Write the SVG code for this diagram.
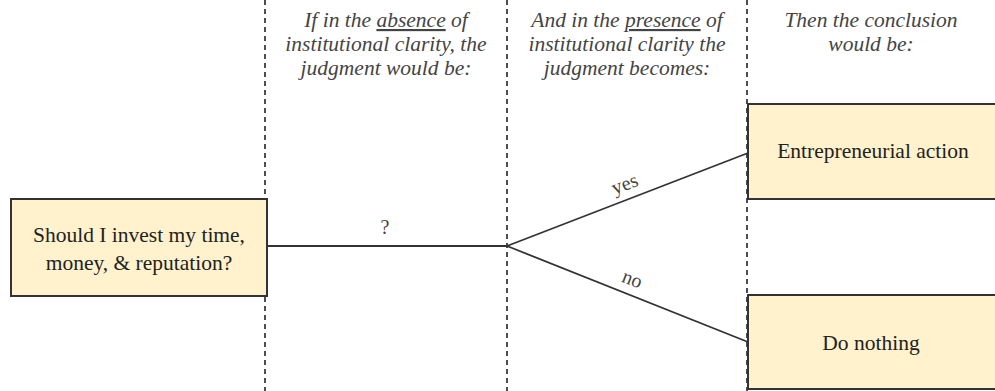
<svg xmlns="http://www.w3.org/2000/svg" width="995" height="391" viewBox="0 0 995 391">
<style>
.guide{stroke:#222;stroke-width:1.6;stroke-dasharray:5,4;fill:none}
.box{fill:#FFF2CC;stroke:#333;stroke-width:2}
.conn{stroke:#333;stroke-width:1.8;fill:none}
.hdr{font-family:"Liberation Serif",serif;font-style:italic;font-size:21.5px;fill:#444;text-anchor:middle}
.lbl{font-family:"Liberation Serif",serif;font-size:21.5px;fill:#222;text-anchor:middle}
.edge{font-family:"Liberation Serif",serif;font-size:20px;fill:#444;text-anchor:middle}
.u{text-decoration:underline}
</style>
<g id="guides">
<line class="guide" x1="265" y1="0" x2="265" y2="391"/>
<line class="guide" x1="507" y1="0" x2="507" y2="391"/>
<line class="guide" x1="747" y1="0" x2="747" y2="391"/>
</g>
<g id="headers">
<text class="hdr" x="386" y="27">If in the <tspan class="u">absence</tspan> of</text>
<text class="hdr" x="386" y="51">institutional clarity, the</text>
<text class="hdr" x="386" y="75">judgment would be:</text>
<text class="hdr" x="627" y="27">And in the <tspan class="u">presence</tspan> of</text>
<text class="hdr" x="627" y="51">institutional clarity the</text>
<text class="hdr" x="627" y="75">judgment becomes:</text>
<text class="hdr" x="871" y="27">Then the conclusion</text>
<text class="hdr" x="871" y="51">would be:</text>
</g>
<g id="connectors">
<line class="conn" x1="267" y1="246" x2="507" y2="246"/>
<line class="conn" x1="507" y1="246" x2="748" y2="153"/>
<line class="conn" x1="507" y1="246" x2="748" y2="342"/>
<text class="edge" x="385" y="234">?</text>
<text class="edge" x="627" y="190" transform="rotate(-21 627 190)">yes</text>
<text class="edge" x="630" y="285" transform="rotate(21 630 285)">no</text>
</g>
<g id="node-question">
<rect class="box" x="11" y="199" width="256" height="97"/>
<text class="lbl" x="139" y="242">Should I invest my time,</text>
<text class="lbl" x="139" y="270">money, &amp; reputation?</text>
</g>
<g id="node-action">
<rect class="box" x="748" y="104" width="250" height="95"/>
<text class="lbl" x="873" y="158">Entrepreneurial action</text>
</g>
<g id="node-nothing">
<rect class="box" x="748" y="295" width="250" height="94"/>
<text class="lbl" x="871" y="350">Do nothing</text>
</g>
</svg>
